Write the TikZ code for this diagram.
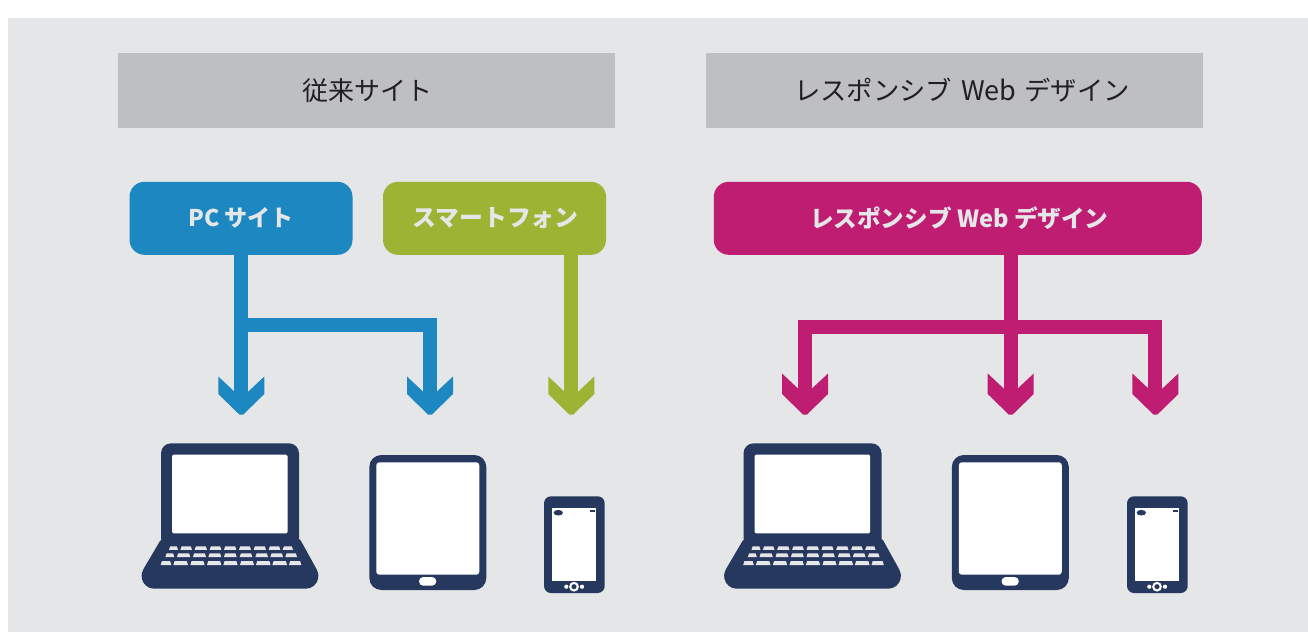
\documentclass[tikz,border=0pt]{standalone}
\usepackage{fontspec}
\newfontfamily\cjk{Noto Sans CJK JP}
\definecolor{pagebg}{HTML}{E5E6E8}
\definecolor{headbg}{HTML}{BEBFC2}
\definecolor{pcblue}{HTML}{1D87C1}
\definecolor{spgreen}{HTML}{9CB434}
\definecolor{rwdpink}{HTML}{BE1D72}
\definecolor{navy}{HTML}{27385F}
\definecolor{headtext}{HTML}{231F20}
\tikzset{
  headbox/.style={fill=headbg,inner sep=0pt,minimum height=75pt,text=headtext,font=\cjk\fontsize{26}{30}\selectfont},
  tagbox/.style={inner sep=0pt,minimum height=73pt,rounded corners=15pt,text=pagebg,font=\cjk\bfseries\fontsize{23.6}{27}\selectfont},
  conn/.style={line width=14pt},
}
% arrow head whose tip is at coordinate #1; #3 lengthens the barbs
\newcommand{\chevronhead}[3]{%
  \fill[#2] ([shift={(-23,{-38-#3})}]#1) -- ([shift={(-7,{-23-#3})}]#1) -- ([shift={(7,{-23-#3})}]#1)
    -- ([shift={(23,{-38-#3})}]#1) -- ([shift={(23,-20.5)}]#1) -- ([shift={(2,0)}]#1)
    -- ([shift={(-2,0)}]#1) -- ([shift={(-23,-20.5)}]#1) -- cycle;}
\newcommand{\keyrow}[3]{% y-top, y-bottom, list of xl/xr
  \foreach \xl/\xr in {#3}{
    \fill[pagebg] ({\xl+0.9},#1) -- ({\xr-0.9},#1) -- ({\xr+0.3},#2) -- ({\xl-0.3},#2) -- cycle;
  }}
\newcommand{\laptop}[1]{%
  \begin{scope}[shift={(#1,0)}]
    \fill[navy,rounded corners=10pt] (161,443.3) rectangle (299,548);
    \fill[navy] (163,538) -- (298,538)
      .. controls (299,538.5) and (300,540) .. (301,541)
      -- (316.5,569) .. controls (319,574) and (318.5,577) .. (318,579)
      .. controls (317,584) and (312,588.7) .. (306,588.7)
      -- (154,588.7) .. controls (148,588.7) and (143,584) .. (142,579)
      .. controls (141.5,577) and (141,574) .. (143.5,569)
      -- (160,541) -- cycle;
    \fill[white,rounded corners=1.5pt] (172,454.7) rectangle (287.7,533.3);
    \keyrow{546.3}{549.8}{169.3/177.7,180.7/191.7,195/206.7,210/221,224.3/236,239.3/250.7,254/265.7,269/280,283/292.7}
    \keyrow{553.3}{557}{165.7/174,177.3/190,193.3/205.7,208.7/221,224.3/236.3,240/252,255.7/267.7,270.7/282.7,285.7/296.7}
    \keyrow{561}{565}{161/171,173.7/187.7,190.7/204.3,207.3/221,223.7/237.3,240.3/253.7,256.3/270.3,272.7/286.7,289.3/301}
  \end{scope}}
\newcommand{\tablet}[1]{%
  \begin{scope}[shift={(#1,0)}]
    \fill[navy,rounded corners=12pt] (369.3,455) rectangle (486.3,590);
    \fill[white,rounded corners=3pt] (376.3,462.3) rectangle (479.3,574.7);
    \fill[white,rounded corners=4.3pt] (419,577) rectangle (436.3,585.7);
  \end{scope}}
\newcommand{\phone}[1]{%
  \begin{scope}[shift={(#1,0)}]
    \fill[navy,rounded corners=7pt] (544,496.3) rectangle (604.7,593);
    \fill[white] (552,508) rectangle (596,581);
    \fill[navy] (558.3,512.7) ellipse [x radius=4.7pt,y radius=2.8pt];
    \fill[navy] (590.3,510) rectangle (595,512);
    \fill[white,even odd rule] (574,586.7) circle [radius=4.9pt] (574,586.7) circle [radius=2.7pt];
    \fill[white] (566.3,586.7) circle [radius=2.1pt] (582,586.7) circle [radius=2.1pt];
  \end{scope}}
\begin{document}
\begin{tikzpicture}[x=1pt,y=-1pt]
  \useasboundingbox (0,0) rectangle (1308,632);
  \fill[white] (0,0) rectangle (1308,632);
  \fill[pagebg] (7.5,18) rectangle (1308,632);

  % headers
  \node[headbox,minimum width=497pt] (headL) at (366.5,90.5) {\hspace*{1pt}従来サイト};
  \node[headbox,minimum width=497pt] (headR) at (954.5,90.5) {\hspace*{15pt}{\fontsize{26.3}{30}\selectfont レスポンシブ}\hspace{9pt}{\fontsize{27}{30}\selectfont Web}\hspace{8pt}{\fontsize{26.3}{30}\selectfont デザイン}};

  % tags
  \node[tagbox,fill=pcblue,minimum width=223pt] (pc) at (241,218.3) {\fontsize{23}{27}\selectfont PC サイト};
  \node[tagbox,fill=spgreen,minimum width=223pt] (sp) at (494.5,218.3) {\hspace*{2pt}\fontsize{23.8}{27}\selectfont スマートフォン};
  \node[tagbox,fill=rwdpink,minimum width=488pt] (rwd) at (957.8,218.3) {\hspace*{3pt}\raisebox{0.8pt}{レスポンシブ Web デザイン}};

  % arrow tips
  \coordinate (tipA) at (241.3,414.5);
  \coordinate (tipB) at (430,414.5);
  \coordinate (tipC) at (571.3,414.5);
  \coordinate (tipD) at (805,414.5);
  \coordinate (tipE) at (1010.7,414.5);
  \coordinate (tipF) at (1155.4,414.5);
  \coordinate (busL) at (241.3,325);
  \coordinate (busR) at (1010.7,326.5);

  % left connectors
  \draw[conn,pcblue] (pc.south -| tipA) -- ([yshift=10pt]tipA);
  \draw[conn,pcblue] (busL) -- (busL -| tipB) -- ([yshift=10pt]tipB);
  \draw[conn,spgreen] (sp.south -| tipC) -- ([yshift=10pt]tipC);
  \chevronhead{tipA}{pcblue}{0}
  \chevronhead{tipB}{pcblue}{0}
  \chevronhead{tipC}{spgreen}{0}

  % right connectors
  \draw[conn,rwdpink] (rwd.south -| tipE) -- ([yshift=10pt]tipE);
  \draw[conn,rwdpink] ([yshift=10pt]tipD) -- (busR -| tipD) -- (busR -| tipF) -- ([yshift=10pt]tipF);
  \chevronhead{tipD}{rwdpink}{3}
  \chevronhead{tipE}{rwdpink}{3}
  \chevronhead{tipF}{rwdpink}{3}

  % devices
  \laptop{0}
  \tablet{0}
  \phone{0}
  \laptop{582.5}
  \tablet{582.5}
  \phone{583}
\end{tikzpicture}
\end{document}
